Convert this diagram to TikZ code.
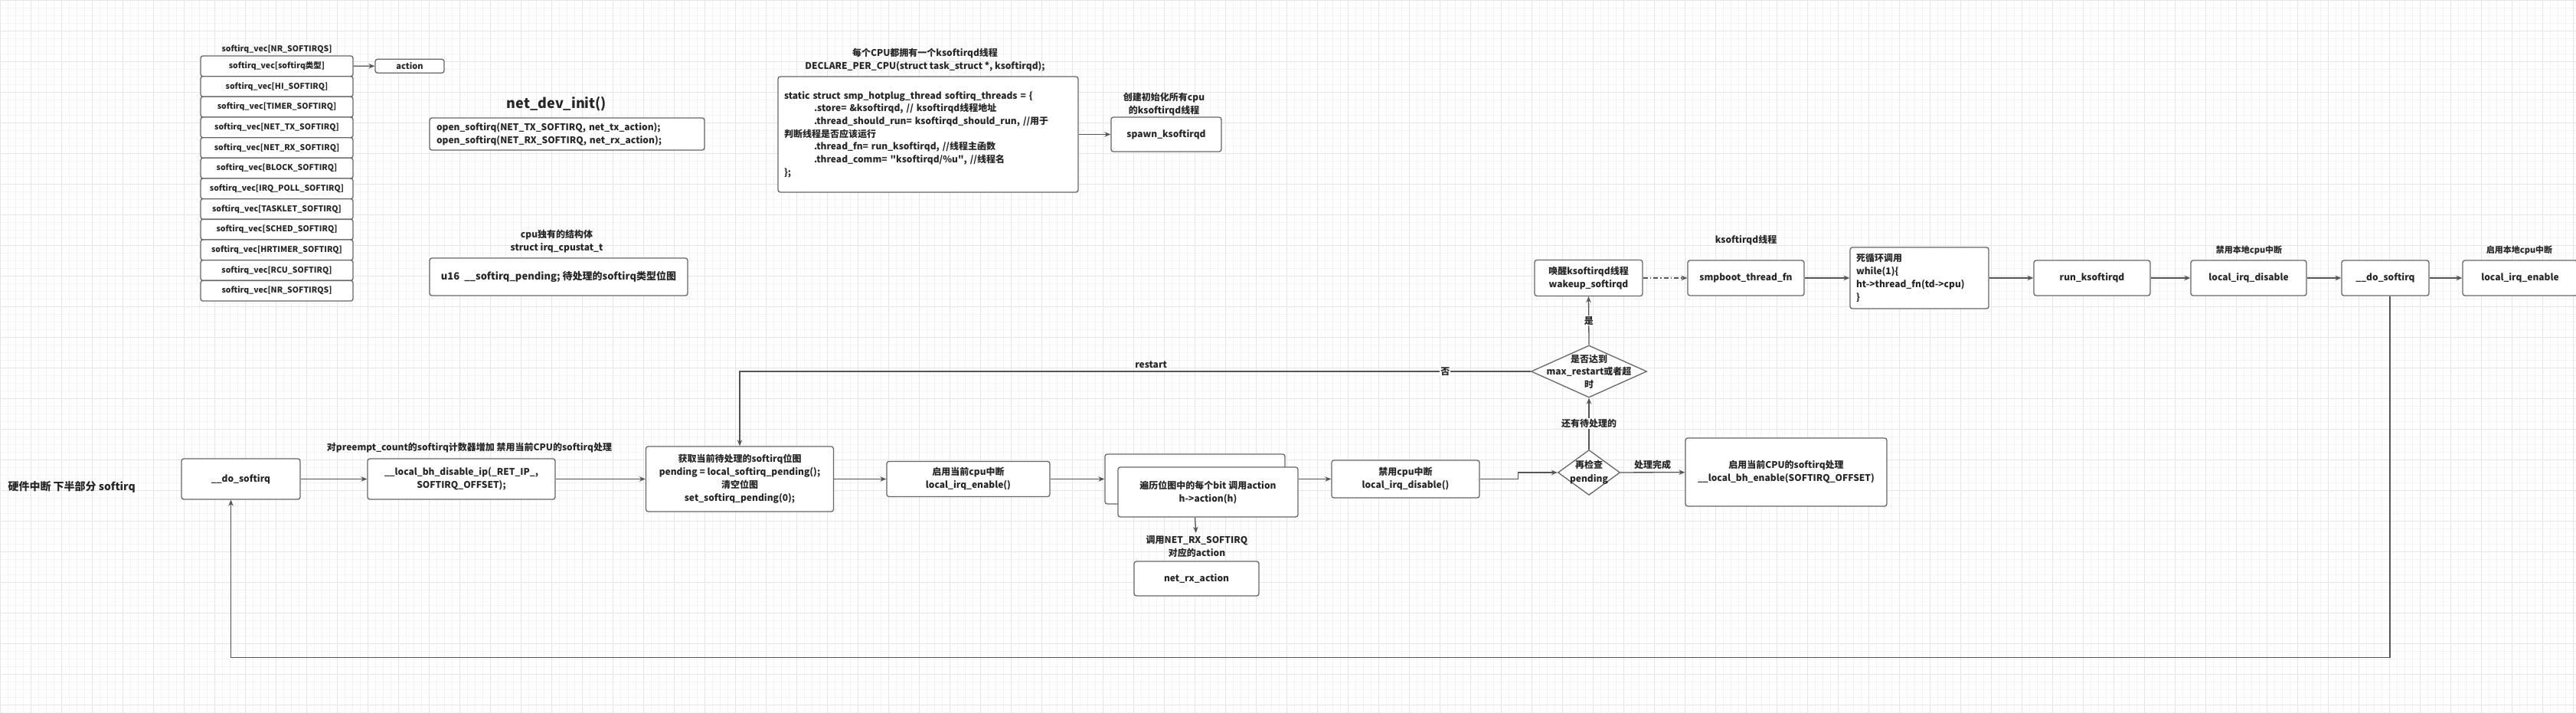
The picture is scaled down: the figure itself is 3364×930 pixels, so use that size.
\documentclass[tikz,border=0pt]{standalone}
\usepackage{fontspec}
\setmainfont{Noto Sans CJK SC}
\newfontfamily\plainquote{Noto Sans CJK SC}
\usetikzlibrary{arrows.meta,shapes.geometric}
\definecolor{gridfine}{HTML}{F3F3F3}
\definecolor{gridbold}{HTML}{E6E6E6}
\definecolor{boxline}{HTML}{666666}
\definecolor{flowline}{HTML}{555555}
\definecolor{ink}{HTML}{262626}

\begin{document}
\begin{tikzpicture}[x=1pt,y=-1pt,
  box/.style={draw=boxline, line width=1.3pt, rounded corners=3pt, fill=white, text=ink, align=center, inner sep=2pt, font=\bfseries\fontsize{12}{17}\selectfont},
  vecrow/.style={box, minimum width=199pt, minimum height=26.7pt, font=\bfseries\fontsize{10.5}{13}\selectfont},
  note/.style={text=ink, align=center, font=\bfseries\fontsize{12}{17}\selectfont},
  flow/.style={draw=flowline, line width=1.3pt, -{Stealth[length=8pt,width=6.5pt]}},
  check/.style={draw=boxline, line width=1.3pt, diamond, fill=white, inner sep=0pt}]

\useasboundingbox (0,0) rectangle (3364,930);
\fill[white] (0,0) rectangle (3364,930);
\draw[gridfine, line width=0.6pt] (0,0) grid[step=10pt] (3364,930);
\draw[gridbold, line width=0.6pt] (0,0) grid[step=40pt] (3364,930);

\node[note, font=\bfseries\fontsize{10.5}{13}\selectfont] (vectitle) at (361.5,64) {softirq\_vec[NR\_SOFTIRQS]};
\foreach \lbl [count=\i] in {softirq\_vec[softirq类型], softirq\_vec[HI\_SOFTIRQ], softirq\_vec[TIMER\_SOFTIRQ], softirq\_vec[NET\_TX\_SOFTIRQ], softirq\_vec[NET\_RX\_SOFTIRQ], softirq\_vec[BLOCK\_SOFTIRQ], softirq\_vec[IRQ\_POLL\_SOFTIRQ], softirq\_vec[TASKLET\_SOFTIRQ], softirq\_vec[SCHED\_SOFTIRQ], softirq\_vec[HRTIMER\_SOFTIRQ], softirq\_vec[RCU\_SOFTIRQ], softirq\_vec[NR\_SOFTIRQS]}
  \node[vecrow] (row\i) at (361.5,{73+26.67*(\i-0.5)}) {\lbl};
\node[box, minimum width=90pt, minimum height=18pt, font=\bfseries\fontsize{11}{13}\selectfont] (action) at (535,86.3) {action};
\draw[flow] (row1) -- (action);

\node[note, font=\bfseries\fontsize{18}{22}\selectfont] (initname) at (727,136) {net\_dev\_init()};
\node[box, align=left, text width=341pt, inner xsep=9pt, minimum height=42pt] (initbox) at (740.5,175) {open\_softirq(NET\_TX\_SOFTIRQ, net\_tx\_action);\\open\_softirq(NET\_RX\_SOFTIRQ, net\_rx\_action);};

\node[note] (percpu) at (1208,78.5) {每个CPU都拥有一个ksoftirqd线程\\DECLARE\_PER\_CPU(struct task\_struct *, ksoftirqd);};
\node[box, align=left, text width=376pt, inner xsep=8pt, minimum height=151pt, font=\bfseries\fontsize{12}{16.7}\selectfont] (threads) at (1212,175.5) {static struct smp\_hotplug\_thread softirq\_threads = \{\\
\hspace*{39pt}.store= \&ksoftirqd, // ksoftirqd线程地址\\
\hspace*{39pt}.thread\_should\_run= ksoftirqd\_should\_run, //用于\\
判断线程是否应该运行\\
\hspace*{39pt}.thread\_fn= run\_ksoftirqd, //线程主函数\\
\hspace*{39pt}.thread\_comm= {\plainquote"}ksoftirqd/\%u{\plainquote"}, //线程名\\
\};};
\node[note] (spawnnote) at (1520,136.5) {创建初始化所有cpu\\的ksoftirqd线程};
\node[box, minimum width=144pt, minimum height=45pt] (spawn) at (1523,175.5) {spawn\_ksoftirqd};
\draw[flow] (threads) -- (spawn);

\node[note] (cpunote) at (727,315.5) {cpu独有的结构体\\struct irq\_cpustat\_t};
\node[box, minimum width=337pt, minimum height=49pt, font=\bfseries\fontsize{13}{17}\selectfont] (cpustat) at (729.5,361.5) {u16\ \ \_\_softirq\_pending; 待处理的softirq类型位图};

\node[note, anchor=west, font=\bfseries\fontsize{14}{17}\selectfont] (bhtitle) at (7,636) {硬件中断 下半部分 softirq};
\node[box, minimum width=155pt, minimum height=53pt] (do1) at (314.5,625.5) {\_\_do\_softirq};
\node[note] (bhnote) at (613,585) {对preempt\_count的softirq计数器增加 禁用当前CPU的softirq处理};
\node[box, minimum width=245pt, minimum height=53pt] (bhoff) at (602.5,625.5) {\_\_local\_bh\_disable\_ip(\_RET\_IP\_,\\SOFTIRQ\_OFFSET);};
\node[box, minimum width=245pt, minimum height=85pt] (pend) at (966,625.5) {获取当前待处理的softirq位图\\pending = local\_softirq\_pending();\\清空位图\\set\_softirq\_pending(0);};
\node[box, minimum width=213pt, minimum height=46pt] (irqon) at (1264.5,625.5) {启用当前cpu中断\\local\_irq\_enable()};
\node[box, minimum width=235pt, minimum height=65pt] (actback) at (1560.5,625.5) {};
\node[box, minimum width=235pt, minimum height=65pt] (act) at (1577.5,642.5) {遍历位图中的每个bit 调用action\\h->action(h)};
\node[note] (rxnote) at (1563,713.5) {调用NET\_RX\_SOFTIRQ\\对应的action};
\node[box, minimum width=163pt, minimum height=45pt] (rx) at (1562.5,755.5) {net\_rx\_action};
\node[box, minimum width=193pt, minimum height=49pt] (irqoff) at (1835.5,625.5) {禁用cpu中断\\local\_irq\_disable()};
\node[check, minimum width=81pt, minimum height=59pt] (recheck) at (2075,617) {};
\node[note, font=\bfseries\fontsize{12}{18}\selectfont] (rechecktxt) at (recheck) {再检查\\pending};
\node[box, minimum width=263pt, minimum height=89pt] (bhon) at (2332.5,616.5) {启用当前CPU的softirq处理\\\_\_local\_bh\_enable(SOFTIRQ\_OFFSET)};
\node[check, minimum width=151pt, minimum height=68pt] (limit) at (2075,485) {};
\node[note, font=\bfseries\fontsize{12}{16.5}\selectfont] (limittxt) at (limit) {是否达到\\max\_restart或者超\\时};

\node[box, minimum width=141pt, minimum height=47pt] (wake) at (2074.5,363) {唤醒ksoftirqd线程\\wakeup\_softirqd};
\node[note] (kthread) at (2280,314) {ksoftirqd线程};
\node[box, minimum width=152pt, minimum height=46pt] (smpfn) at (2280,363) {smpboot\_thread\_fn};
\node[box, align=left, text width=165pt, inner xsep=8pt, minimum height=80pt] (loop) at (2506.5,363) {死循环调用\\while(1)\{\\ht->thread\_fn(td->cpu)\\\}};
\node[box, minimum width=152pt, minimum height=46pt] (runk) at (2732,363) {run\_ksoftirqd};
\node[note, font=\bfseries\fontsize{11}{13}\selectfont] (offnote) at (2937,327) {禁用本地cpu中断};
\node[box, minimum width=151pt, minimum height=46pt] (irqoff2) at (2936.5,363) {local\_irq\_disable};
\node[box, minimum width=114pt, minimum height=46pt] (do2) at (3115,363) {\_\_do\_softirq};
\node[note, font=\bfseries\fontsize{11}{13}\selectfont] (onnote) at (3290,327) {启用本地cpu中断};
\node[box, minimum width=150pt, minimum height=46pt] (irqon2) at (3291,363) {local\_irq\_enable};

\draw[flow] (do1) -- (bhoff);
\draw[flow] (bhoff) -- (pend);
\draw[flow] (pend) -- (irqon);
\draw[flow] (irqon) -- (actback);
\draw[flow] (act.east |- irqoff) -- (irqoff);
\draw[flow] (act.south -| actback) -- (rxnote);
\draw[flow] (irqoff.east) -- ++(50,0) |- (recheck.west);
\draw[flow] (recheck) -- node[note, above] {处理完成} (bhon);
\draw[flow] (recheck.north) -- node[note, fill=white, inner sep=1pt] {还有待处理的} (limit.south);
\draw[flow] (limit.north) -- node[note, fill=white, inner sep=1pt] {是} (wake.south);
\draw[flow] (limit.west) -| node[note, pos=.054, fill=white, inner sep=1pt] {否} node[note, pos=.24, above] {restart} (pend.north);
\draw[flow, dash pattern=on 6pt off 3pt on 1.5pt off 3pt] (wake) -- (smpfn);
\draw[flow] (smpfn) -- (loop);
\draw[flow] (loop) -- (runk);
\draw[flow] (runk) -- (irqoff2);
\draw[flow] (irqoff2) -- (do2);
\draw[flow] (do2) -- (irqon2);
\draw[flow] ([xshift=6pt]do2.south) -- ++(0,472) -| ([xshift=-13pt]do1.south);
\end{tikzpicture}
\end{document}
